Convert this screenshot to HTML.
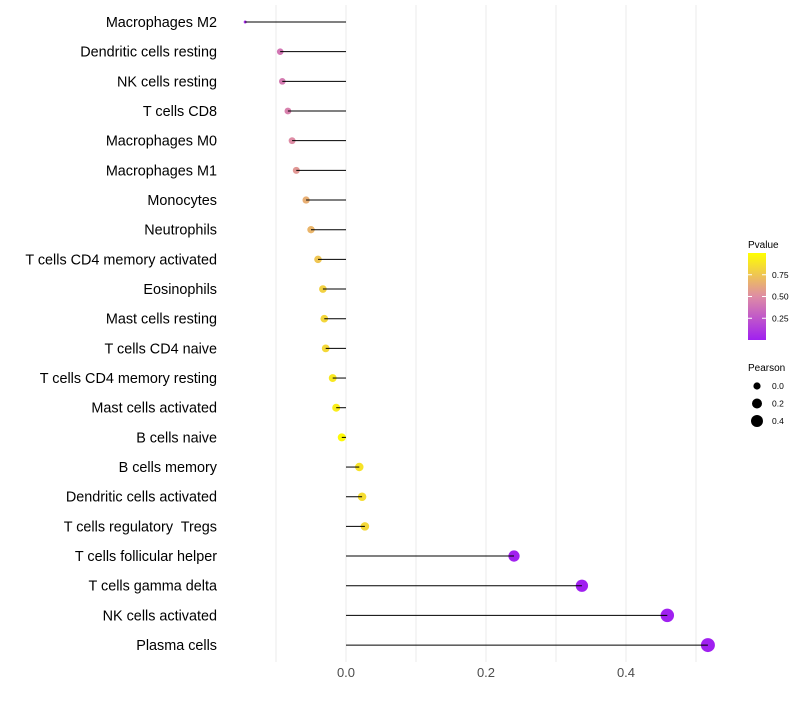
<!DOCTYPE html>
<html><head><meta charset="utf-8"><style>
body{margin:0;background:#fff;font-family:"Liberation Sans",sans-serif}
svg text{font-family:"Liberation Sans",sans-serif;white-space:pre}
</style></head><body>
<svg id="c" width="800" height="700" xmlns="http://www.w3.org/2000/svg">
<g id="grid"></g><g id="marks"></g><g id="labels"></g><g id="legend"></g>
</svg>
<script>
const categories=["Macrophages M2","Dendritic cells resting","NK cells resting","T cells CD8","Macrophages M0","Macrophages M1","Monocytes","Neutrophils","T cells CD4 memory activated","Eosinophils","Mast cells resting","T cells CD4 naive","T cells CD4 memory resting","Mast cells activated","B cells naive","B cells memory","Dendritic cells activated","T cells regulatory  Tregs","T cells follicular helper","T cells gamma delta","NK cells activated","Plasma cells"];
const pearson=[-0.144,-0.094,-0.091,-0.083,-0.077,-0.071,-0.057,-0.05,-0.04,-0.033,-0.031,-0.029,-0.019,-0.014,-0.006,0.019,0.023,0.027,0.24,0.337,0.459,0.517];
const pvalues=[0.05,0.4,0.42,0.45,0.5,0.55,0.65,0.68,0.75,0.8,0.82,0.83,0.9,0.92,0.98,0.88,0.85,0.83,0.01,0.001,0,0];
const xTicks=[0,0.2,0.4];
const pTicks=[0.25,0.5,0.75];
const sizeTicks=[0,0.2,0.4];
const NS="http://www.w3.org/2000/svg";
const x=v=>346+v*700;
const y=i=>22+i*29.67;
const vmin=Math.min(...pearson),vmax=Math.max(...pearson);
const r=(v,i)=>i===0?1.5:Math.sqrt(7.8+(49-7.8)*Math.max(0,(v-vmin)/(vmax-vmin)));
const stops=[[0,[160,32,240]],[0.5,[222,140,165]],[1,[255,255,0]]];
function col(p){for(let k=0;k<stops.length-1;k++){const a=stops[k],b=stops[k+1];if(p<=b[0]){const t=(p-a[0])/(b[0]-a[0]);const c=a[1].map((v,j)=>Math.round(v+(b[1][j]-v)*t));return`rgb(${c})`;}}return"rgb(255,255,0)";}
function mk(t,at,parent){const e=document.createElementNS(NS,t);for(const k in at)e.setAttribute(k,at[k]);parent.appendChild(e);return e;}
const grid=document.getElementById('grid'),marks=document.getElementById('marks'),labels=document.getElementById('labels'),legend=document.getElementById('legend');
[-0.1,0,0.1,0.2,0.3,0.4,0.5].forEach(v=>{const l=mk('line',{x1:x(v),x2:x(v),y1:5,y2:662,stroke:'#ebebeb','stroke-width':1},grid);

});
xTicks.forEach(v=>{const t=mk('text',{x:x(v),y:677,'font-size':13,fill:'#4d4d4d','text-anchor':'middle'},labels);t.textContent=v.toFixed(1);

});
categories.forEach((c,i)=>{
const pt=mk('circle',{cx:x(pearson[i]),cy:y(i),r:r(pearson[i],i),fill:col(pvalues[i])},marks);


const ln=mk('line',{x1:x(0),x2:x(pearson[i]),y1:y(i),y2:y(i),stroke:'#000','stroke-width':1},marks);


const t=mk('text',{x:217,y:y(i)+5,'font-size':14.4,fill:'#000','text-anchor':'end'},labels);t.textContent=c;

});
const defs=mk('defs',{},legend);const g=mk('linearGradient',{id:'pg',x1:0,y1:1,x2:0,y2:0},defs);
stops.forEach(s=>mk('stop',{offset:s[0],'stop-color':`rgb(${s[1]})`},g));
let t=mk('text',{x:748,y:248,'font-size':10},legend);t.textContent='Pvalue';


const bar=mk('rect',{x:748,y:253,width:18,height:87,fill:'url(#pg)'},legend);


pTicks.forEach(p=>{const yy=340-p*87;mk('line',{x1:748,x2:752,y1:yy,y2:yy,stroke:'#fff'},legend);mk('line',{x1:762,x2:766,y1:yy,y2:yy,stroke:'#fff'},legend);
const tt=mk('text',{x:772,y:yy+3,'font-size':8.5,fill:'#000'},legend);tt.textContent=p.toFixed(2);

});
t=mk('text',{x:748,y:371,'font-size':10},legend);t.textContent='Pearson';


const legR=[3.6,5,6];
sizeTicks.forEach((v,k)=>{const yy=386+k*17.5;const c=mk('circle',{cx:757,cy:yy,r:legR[k],fill:'#000'},legend);


const tt=mk('text',{x:772,y:yy+3,'font-size':8.5},legend);tt.textContent=v.toFixed(1);

});
</script>
</body></html>
